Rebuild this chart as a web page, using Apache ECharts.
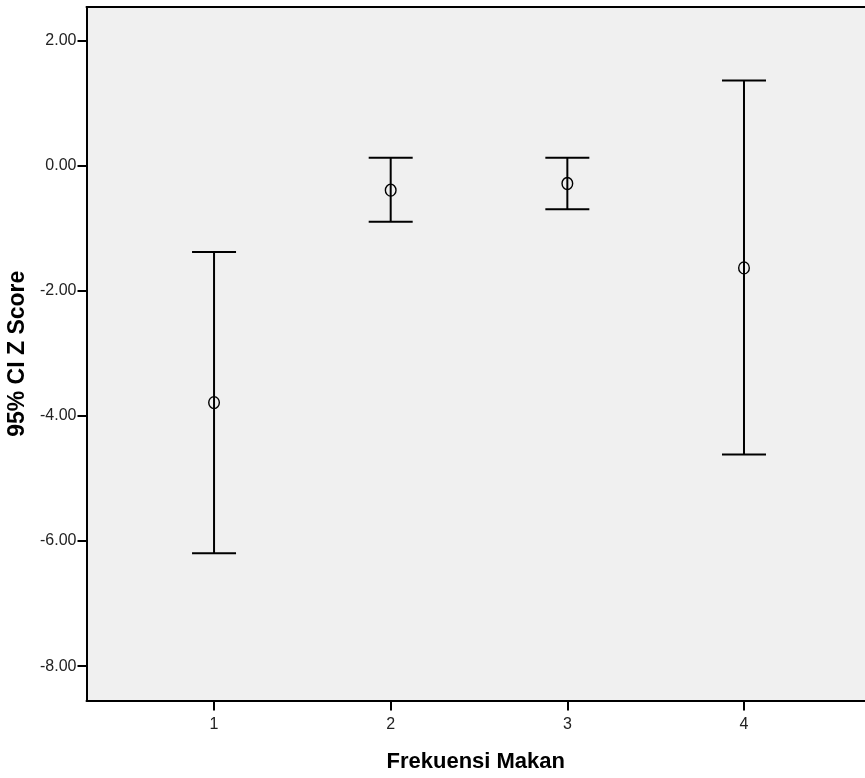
<!DOCTYPE html>
<html>
<head>
<meta charset="utf-8">
<script src="https://cdn.jsdelivr.net/npm/echarts@6/dist/echarts.min.js"></script>
<style>html,body{margin:0;padding:0;background:#fff;}#c{width:865px;height:778px;}</style>
</head>
<body>
<div id="c"></div>
<script>
var categories = [1, 2, 3, 4];
var lowerCI = [-6.197, -0.896, -0.693, -4.618];
var upperCI = [-1.376, 0.128, 0.128, 1.366];
var meanVal = [-3.786, -0.389, -0.282, -1.632];
var yTicks = [-8, -6, -4, -2, 0, 2];

var data = categories.map(function (c, i) { return [c, lowerCI[i], upperCI[i], meanVal[i]]; });

var chart = echarts.init(document.getElementById('c'), null, { renderer: 'canvas' });
chart.setOption({
  animation: false,
  backgroundColor: '#ffffff',
  grid: { left: 86.5, top: 7, right: 0, bottom: 77.5, show: true, backgroundColor: '#f0f0f0', borderWidth: 0, containLabel: false, outerBoundsMode: 'none' },
  xAxis: [{
    type: 'value', min: 0.278, max: 4.685,
    name: 'Frekuensi Makan', nameLocation: 'middle', nameGap: 50,
    nameTextStyle: { fontFamily: 'Liberation Sans', fontWeight: 'bold', fontSize: 22, color: '#000' },
    splitLine: { show: false },
    axisLine: { show: true, onZero: false, lineStyle: { color: '#000', width: 2 } },
    axisTick: { show: true, length: 10, lineStyle: { color: '#000', width: 2 }, customValues: categories },
    axisLabel: { fontFamily: 'Liberation Sans', fontSize: 16, color: '#222', margin: 16, customValues: categories, formatter: function (v) { return String(v); } }
  }, {
    type: 'value', position: 'top', min: 0.278, max: 4.685,
    splitLine: { show: false },
    axisLine: { show: true, onZero: false, lineStyle: { color: '#000', width: 2 } },
    axisTick: { show: false }, axisLabel: { show: false }
  }],
  yAxis: {
    type: 'value', min: -8.55, max: 2.54,
    name: '95% CI Z Score', nameLocation: 'middle', nameGap: 50, nameRotate: 90,
    nameTextStyle: { fontFamily: 'Liberation Sans', fontWeight: 'bold', fontSize: 23, color: '#000' },
    splitLine: { show: false },
    axisLine: { show: true, onZero: false, lineStyle: { color: '#000', width: 2 } },
    axisTick: { show: true, length: 9, lineStyle: { color: '#000', width: 2 }, customValues: yTicks },
    axisLabel: { fontFamily: 'Liberation Sans', fontSize: 16, color: '#222', margin: 10, customValues: yTicks, formatter: function (v) { return v.toFixed(2); } }
  },
  series: [{
    type: 'custom',
    data: data,
    renderItem: function (params, api) {
      var x = api.value(0);
      var lo = api.coord([x, api.value(1)]);
      var hi = api.coord([x, api.value(2)]);
      var m = api.coord([x, api.value(3)]);
      var hw = 22;
      var st = { stroke: '#000', lineWidth: 2 };
      return {
        type: 'group',
        children: [
          { type: 'line', shape: { x1: hi[0], y1: hi[1], x2: lo[0], y2: lo[1] }, style: st },
          { type: 'line', shape: { x1: hi[0] - hw, y1: hi[1], x2: hi[0] + hw, y2: hi[1] }, style: st },
          { type: 'line', shape: { x1: lo[0] - hw, y1: lo[1], x2: lo[0] + hw, y2: lo[1] }, style: st },
          { type: 'ellipse', shape: { cx: m[0], cy: m[1], rx: 5.3, ry: 6 }, style: { fill: 'none', stroke: '#000', lineWidth: 1.4 } }
        ]
      };
    }
  }]
});
</script>
</body>
</html>
